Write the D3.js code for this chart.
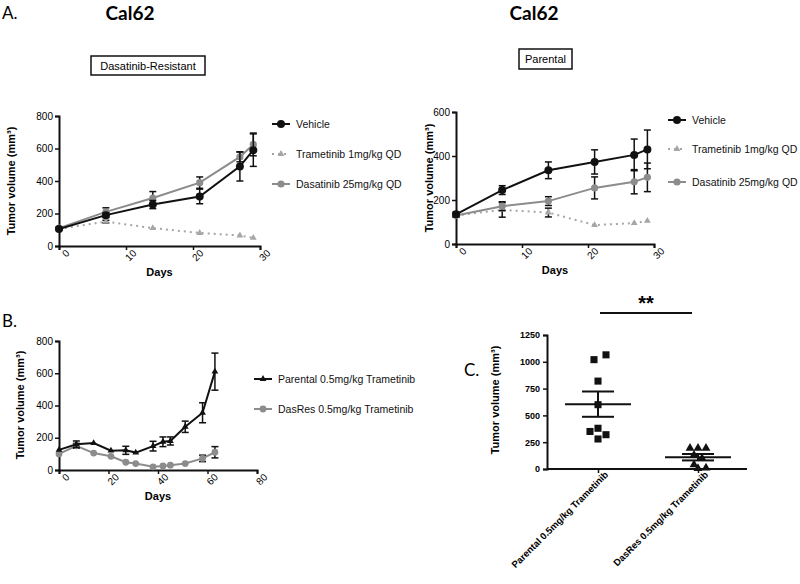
<!DOCTYPE html>
<html><head><meta charset="utf-8">
<script src="https://cdn.jsdelivr.net/npm/d3@7"></script>
<style>body{margin:0;background:#fff}svg{display:block}svg text{font-family:'Liberation Sans',Arial,sans-serif}svg text.cal{font-family:Lato,'Open Sans',sans-serif}</style>
</head><body>
<script>
// ---------- DATA ----------
const daysA = [0, 7, 14, 21, 27, 29];
// Panel A left: Dasatinib-Resistant
const resVehicle = [105, 190, 255, 305, 490, 590];
const resVehicleErr = [8, 15, 25, 45, 90, 100];
const resTram = [105, 150, 110, 80, 65, 50];
const resTramErr = [5, 8, 6, 5, 5, 5];
const resDasa = [110, 210, 295, 390, 548, 625];
const resDasaErr = [8, 25, 40, 35, 30, 70];
// Panel A right: Parental
const parVehicle = [135, 245, 335, 373, 405, 430];
const parVehicleErr = [10, 20, 38, 55, 72, 88];
const parTram = [130, 155, 143, 86, 95, 105];
const parTramErr = [8, 33, 20, 5, 6, 6];
const parDasa = [130, 172, 195, 255, 283, 303];
const parDasaErr = [8, 20, 20, 50, 55, 65];
// Panel B
const daysB = [0, 7, 14, 21, 27, 31, 38, 42, 45, 51, 58, 63];
const bParental = [125, 160, 167, 120, 122, 108, 148, 175, 180, 268, 355, 610];
const bParentalErr = [5, 20, 5, 5, 25, 5, 30, 30, 25, 35, 62, 115];
const bDasRes = [100, 150, 105, 85, 48, 40, 20, 25, 30, 40, 72, 110];
const bDasResErr = [5, 15, 5, 5, 5, 5, 5, 5, 5, 5, 20, 35];
// Panel C
const cCategories = ["Parental 0.5mg/kg Trametinib", "DasRes 0.5mg/kg Trametinib"];
const cParental = [1065, 1020, 820, 600, 380, 350, 320, 280];
const cParentalOffset = [8, -4, 0, 0, 0, -8, 8, 0];
const cDasRes = [195, 195, 195, 130, 100, 40, 10, 5];
const cDasResOffset = [-8, 0, 8, -4, 4, -4, 8, 0];
const cMean = [605, 110];
const cSem = [118, 30];
const yTicksA = [0, 200, 400, 600, 800];
const yTicksA2 = [0, 200, 400, 600];
const xTicksA = [0, 10, 20, 30];
const xTicksB = [0, 20, 40, 60, 80];
const yTicksC = [0, 250, 500, 750, 1000, 1250];

// ---------- DRAW ----------
const svg = d3.select("body").append("svg").attr("width", 800).attr("height", 584);
const BLACK = "#111", GRAY = "#8c8c8c", LGRAY = "#a6a6a6";

function yTitle(g, x0, y0, txt) {
  return g.append("text").attr("transform", `translate(${x0},${y0}) rotate(-90)`)
    .attr("text-anchor", "middle").style("font-size", "11px").style("font-weight", "bold").text(txt);
}

function axesPanel(x, y, xt, yt, xlab, ylabX, ylabY) {
  const g = svg.append("g");
  const xa = g.append("g").attr("transform", `translate(0,${y.range()[0]})`)
    .call(d3.axisBottom(x).tickValues(xt).tickSize(4).tickFormat(d3.format("d")));
  xa.selectAll("text").attr("text-anchor", "end").attr("dx", "0.2em").attr("dy", "0.6em")
    .attr("transform", "rotate(-45)").style("font-size", "10px");
  const ya = g.append("g").attr("transform", `translate(${x.range()[0]},0)`)
    .call(d3.axisLeft(y).tickValues(yt).tickSize(4));
  ya.selectAll("text").style("font-size", "10px").attr("dx", "0.1em");
  g.selectAll("g").attr("font-family", null);
  g.selectAll(".domain").attr("stroke", BLACK).attr("stroke-width", 2);
  g.selectAll(".tick line").attr("stroke", BLACK).attr("stroke-width", 1.5);
  g.append("text").attr("x", (x.range()[0] + x.range()[1]) / 2).attr("y", y.range()[0] + 30)
    .attr("text-anchor", "middle").style("font-size", "11px").style("font-weight", "bold").text(xlab);
  yTitle(g, ylabX, ylabY, "Tumor volume  (mm³)");
  return g;
}

function marker(g, cx, cy, opt) {
  if (opt.shape === "tri") {
    g.append("path").attr("d", d3.symbol(d3.symbolTriangle, opt.size || 22)())
      .attr("transform", `translate(${cx},${cy})`).attr("fill", opt.color);
  } else {
    g.append("circle").attr("cx", cx).attr("cy", cy).attr("r", opt.r || 3.8).attr("fill", opt.color);
  }
}

function series(x, y, days, vals, errs, opt) {
  const g = svg.append("g");
  const line = d3.line().x((d, i) => x(days[i])).y(d => y(d));
  g.append("path").datum(vals).attr("d", line).attr("fill", "none")
    .attr("stroke", opt.color).attr("stroke-width", opt.width || 2)
    .attr("stroke-dasharray", opt.dash || null);
  vals.forEach((v, i) => {
    if (errs[i] < 7) return;
    const cx = x(days[i]);
    g.append("line").attr("x1", cx).attr("x2", cx).attr("y1", y(v - errs[i])).attr("y2", y(v + errs[i]))
      .attr("stroke", BLACK).attr("stroke-width", 1.5);
    [v - errs[i], v + errs[i]].forEach(e => g.append("line").attr("x1", cx - 3.5).attr("x2", cx + 3.5)
      .attr("y1", y(e)).attr("y2", y(e)).attr("stroke", BLACK).attr("stroke-width", 1.5));
  });
  vals.forEach((v, i) => marker(g, x(days[i]), y(v), opt));
}

function legend(x0, y0, label, opt) {
  const g = svg.append("g");
  g.append("line").attr("x1", x0 - 9).attr("x2", x0 + 9).attr("y1", y0).attr("y2", y0)
    .attr("stroke", opt.color).attr("stroke-width", opt.width || 2).attr("stroke-dasharray", opt.dash || null);
  marker(g, x0, y0, opt);
  g.append("text").attr("x", x0 + 15).attr("y", y0 + 4).style("font-size", "10.5px").attr("fill", "#111").text(label);
}

// Titles
svg.append("text").attr("class", "cal").attr("x", 2).attr("y", 19).style("font-size", "17px").text("A.");
svg.append("text").attr("class", "cal").attr("x", 130).attr("y", 20).attr("text-anchor", "middle")
  .style("font-weight", "bold").style("font-size", "19px").text("Cal62");
svg.append("text").attr("class", "cal").attr("x", 534).attr("y", 20).attr("text-anchor", "middle")
  .style("font-weight", "bold").style("font-size", "19px").text("Cal62");
function boxLabel(x0, y0, w, h, txt) {
  svg.append("rect").attr("x", x0).attr("y", y0).attr("width", w).attr("height", h)
    .attr("fill", "none").attr("stroke", BLACK).attr("stroke-width", 1.5);
  svg.append("text").attr("x", x0 + w / 2).attr("y", y0 + h / 2 + 4).attr("text-anchor", "middle")
    .style("font-size", "11px").text(txt);
}
boxLabel(91, 56, 114, 19, "Dasatinib-Resistant");
boxLabel(519, 49, 53, 20, "Parental");

// Panel A left
const xL = d3.scaleLinear().domain([0, 30]).range([59, 260]);
const yL = d3.scaleLinear().domain([0, 800]).range([246, 116]);
axesPanel(xL, yL, xTicksA, yTicksA, "Days", 15, 181);
const optV = {color: BLACK, r: 4};
const optT = {color: LGRAY, shape: "tri", dash: "2,4", size: 20};
const optD = {color: GRAY, r: 3.6};
series(xL, yL, daysA, resTram, resTramErr, optT);
series(xL, yL, daysA, resDasa, resDasaErr, optD);
series(xL, yL, daysA, resVehicle, resVehicleErr, optV);
legend(281, 124, "Vehicle", optV);
legend(281, 154, "Trametinib 1mg/kg QD", optT);
legend(281, 184, "Dasatinib 25mg/kg QD", optD);

// Panel A right
const xR = d3.scaleLinear().domain([0, 30]).range([456, 654]);
const yR = d3.scaleLinear().domain([0, 600]).range([244, 112]);
axesPanel(xR, yR, xTicksA, yTicksA2, "Days", 433, 178);
series(xR, yR, daysA, parTram, parTramErr, optT);
series(xR, yR, daysA, parDasa, parDasaErr, optD);
series(xR, yR, daysA, parVehicle, parVehicleErr, optV);
legend(677, 120, "Vehicle", optV);
legend(677, 149, "Trametinib 1mg/kg QD", optT);
legend(677, 182, "Dasatinib 25mg/kg QD", optD);

// Panel B
svg.append("text").attr("class", "cal").attr("x", 2).attr("y", 327).style("font-size", "17px").text("B.");
const xB = d3.scaleLinear().domain([0, 80]).range([59, 257]);
const yB = d3.scaleLinear().domain([0, 800]).range([470, 341]);
axesPanel(xB, yB, xTicksB, yTicksA, "Days", 24, 405);
const optP = {color: BLACK, shape: "tri", size: 20};
const optDR = {color: GRAY, r: 3.4};
series(xB, yB, daysB, bDasRes, bDasResErr, optDR);
series(xB, yB, daysB, bParental, bParentalErr, optP);
legend(263, 379, "Parental 0.5mg/kg Trametinib", optP);
legend(263, 409, "DasRes 0.5mg/kg Trametinib", optDR);

// Panel C
svg.append("text").attr("class", "cal").attr("x", 464).attr("y", 376).style("font-size", "17px").text("C.");
const xC = d3.scalePoint().domain(cCategories).range([598, 698]);
const yC = d3.scaleLinear().domain([0, 1250]).range([469, 335]);
const gC = svg.append("g");
const xaC = gC.append("g").attr("transform", `translate(0,469)`).call(d3.axisBottom(xC).tickSize(4));
xaC.select(".domain").remove();
gC.append("line").attr("x1", 547).attr("x2", 747).attr("y1", 469).attr("y2", 469).attr("stroke", BLACK).attr("stroke-width", 2);
xaC.selectAll("text").attr("text-anchor", "end").attr("dx", "0.3em").attr("dy", "0.5em")
  .attr("transform", "rotate(-45)").style("font-size", "9.5px").style("font-weight", "bold");
const yaC = gC.append("g").attr("transform", "translate(547,0)")
  .call(d3.axisLeft(yC).tickValues(yTicksC).tickSize(4).tickFormat(d3.format("d")));
yaC.selectAll("text").style("font-size", "9px").style("font-weight", "bold");
gC.selectAll("g").attr("font-family", null);
gC.selectAll(".domain").attr("stroke", BLACK).attr("stroke-width", 2);
gC.selectAll(".tick line").attr("stroke", BLACK).attr("stroke-width", 1.5);
yTitle(gC, 499, 400, "Tumor volume (mm³)");
cParental.forEach((v, i) => gC.append("path").attr("d", d3.symbol(d3.symbolSquare, 50)())
  .attr("transform", `translate(${xC(cCategories[0]) + cParentalOffset[i]},${yC(v)})`).attr("fill", BLACK));
cDasRes.forEach((v, i) => gC.append("path").attr("d", d3.symbol(d3.symbolTriangle, 34)())
  .attr("transform", `translate(${xC(cCategories[1]) + cDasResOffset[i]},${yC(v)})`).attr("fill", BLACK));
cCategories.forEach((c, i) => {
  const cx = xC(c);
  gC.append("line").attr("x1", cx - 33).attr("x2", cx + 33).attr("y1", yC(cMean[i])).attr("y2", yC(cMean[i]))
    .attr("stroke", BLACK).attr("stroke-width", 2);
  gC.append("line").attr("x1", cx).attr("x2", cx).attr("y1", yC(cMean[i] - cSem[i])).attr("y2", yC(cMean[i] + cSem[i]))
    .attr("stroke", BLACK).attr("stroke-width", 2);
  [cMean[i] - cSem[i], cMean[i] + cSem[i]].forEach(e => gC.append("line").attr("x1", cx - 16).attr("x2", cx + 16)
    .attr("y1", yC(e)).attr("y2", yC(e)).attr("stroke", BLACK).attr("stroke-width", 2));
});
gC.append("line").attr("x1", 600).attr("x2", 692).attr("y1", 313).attr("y2", 313).attr("stroke", BLACK).attr("stroke-width", 2);
gC.append("text").attr("x", 646).attr("y", 310).attr("text-anchor", "middle").style("font-size", "20px")
  .style("font-weight", "bold").text("**");
</script>
</body></html>
